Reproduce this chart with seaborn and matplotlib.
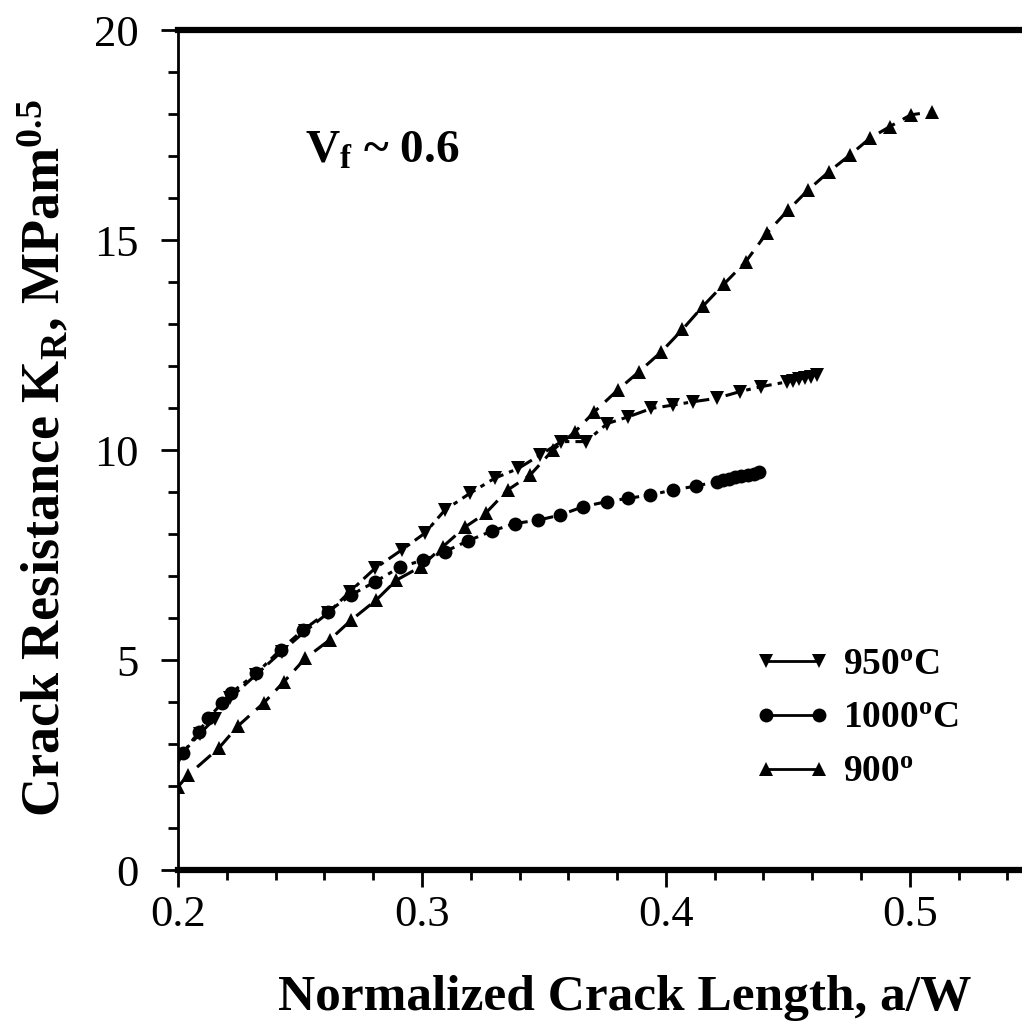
import matplotlib
matplotlib.use("Agg")
import matplotlib.pyplot as plt
import seaborn as sns
import pandas as pd
from matplotlib.lines import Line2D

# ---- data ----
x900 = [0.2000, 0.2041, 0.2167, 0.2246, 0.2352, 0.2434, 0.2522, 0.2622, 0.2710, 0.2813,
        0.2895, 0.2995, 0.3086, 0.3178, 0.3262, 0.3352, 0.3443, 0.3537, 0.3627, 0.3705,
        0.3803, 0.3889, 0.3980, 0.4068, 0.4153, 0.4238, 0.4327, 0.4413, 0.4501, 0.4583,
        0.4669, 0.4754, 0.4836, 0.4918, 0.5004, 0.5089]
y900 = [1.98, 2.26, 2.90, 3.43, 3.98, 4.48, 5.04, 5.48, 5.95, 6.43,
        6.90, 7.22, 7.70, 8.17, 8.50, 9.05, 9.40, 10.00, 10.43, 10.90,
        11.43, 11.86, 12.33, 12.87, 13.43, 13.95, 14.48, 15.16, 15.71, 16.19,
        16.63, 17.02, 17.42, 17.70, 17.98, 18.05]

x950 = [0.2005, 0.2090, 0.2150, 0.2215, 0.2320, 0.2425, 0.2520, 0.2615, 0.2705, 0.2807,
        0.2917, 0.3012, 0.3094, 0.3197, 0.3299, 0.3395, 0.3484, 0.3572, 0.3672, 0.3760,
        0.3846, 0.3941, 0.4030, 0.4112, 0.4208, 0.4303, 0.4392, 0.4495, 0.4520, 0.4545,
        0.4570, 0.4595, 0.4620]
y950 = [2.70, 3.25, 3.60, 4.10, 4.65, 5.20, 5.68, 6.12, 6.63, 7.18,
        7.62, 8.02, 8.57, 8.97, 9.33, 9.56, 9.88, 10.20, 10.20, 10.63,
        10.79, 10.99, 11.07, 11.15, 11.23, 11.39, 11.51, 11.62, 11.65, 11.69,
        11.72, 11.75, 11.78]

x1000 = [0.2020, 0.2085, 0.2123, 0.2180, 0.2216, 0.2321, 0.2421, 0.2512, 0.2615, 0.2710,
         0.2807, 0.2910, 0.3005, 0.3094, 0.3190, 0.3286, 0.3381, 0.3477, 0.3566, 0.3661,
         0.3757, 0.3846, 0.3937, 0.4030, 0.4123, 0.4210, 0.4235, 0.4260, 0.4285, 0.4310,
         0.4335, 0.4360, 0.4380]
y1000 = [2.78, 3.29, 3.61, 3.97, 4.21, 4.68, 5.25, 5.71, 6.15, 6.55,
         6.86, 7.21, 7.38, 7.58, 7.84, 8.07, 8.25, 8.33, 8.45, 8.65,
         8.77, 8.85, 8.93, 9.05, 9.14, 9.25, 9.28, 9.31, 9.35, 9.38,
         9.41, 9.44, 9.47]

labels = ["950$^\\mathrm{o}$C", "1000$^\\mathrm{o}$C", "900$^\\mathrm{o}$"]
xticks = [0.2, 0.3, 0.4, 0.5]
yticks = [0, 5, 10, 15, 20]

# ---- style ----
sns.set_theme(style="ticks")
plt.rcParams['font.family'] = ['Liberation Serif', 'DejaVu Serif']
plt.rcParams['mathtext.fontset'] = 'custom'
plt.rcParams['mathtext.rm'] = 'Liberation Serif:bold'
plt.rcParams['mathtext.it'] = 'Liberation Serif:bold'
plt.rcParams['mathtext.bf'] = 'Liberation Serif:bold'
plt.rcParams['text.color'] = 'black'
plt.rcParams['axes.labelcolor'] = 'black'
plt.rcParams['xtick.color'] = 'black'
plt.rcParams['ytick.color'] = 'black'

fig = plt.figure(figsize=(10.22, 10.21), dpi=100)
ax = fig.add_axes([178/1022, 151/1021, 1 - 178/1022, (870-30)/1021])

series = [
    (x950, y950, 'v', (0, (5, 2, 1.5, 2))),
    (x1000, y1000, 'o', (0, (3, 2, 1.5, 2))),
    (x900, y900, '^', (0, (6, 3))),
]
for (xs, ys, mk, ls) in series:
    df = pd.DataFrame({'x': xs, 'y': ys})
    sns.lineplot(data=df, x='x', y='y', ax=ax, sort=False, estimator=None,
                 color='black', linewidth=2.2, linestyle=ls,
                 marker=mk, markersize=10, markeredgewidth=0,
                 markerfacecolor='black', clip_on=True)

ax.set_xlim(0.2, 0.546)
ax.set_ylim(0, 20)
ax.set_xticks(xticks)
ax.set_xticklabels([f"{v:.1f}" for v in xticks])
ax.set_yticks(yticks)
ax.set_xticks([0.2 + 0.02 * i for i in range(18)], minor=True)
ax.set_yticks(list(range(0, 21)), minor=True)
ax.tick_params(axis='both', which='major', direction='out', length=12, width=2,
               labelsize=32, colors='black', pad=6)
ax.tick_params(axis='y', which='major', pad=16)
ax.tick_params(axis='both', which='minor', direction='out', length=7, width=2)
ax.tick_params(top=False, right=False)

for s in ['top', 'bottom']:
    ax.spines[s].set_linewidth(4.5)
ax.spines['left'].set_linewidth(2)
ax.spines['right'].set_visible(False)
for s in ax.spines.values():
    s.set_color('black')

ax.set_xlabel("Normalized Crack Length, a/W", fontsize=37, fontweight='bold', color='black')
ax.xaxis.set_label_coords((625 - 178) / 844, -(1010 - 870) / 840, transform=ax.transAxes)
ax.xaxis.label.set_va('baseline')
ax.set_ylabel("Crack Resistance K$_\\mathrm{R}$, MPam$^\\mathrm{0.5}$", fontsize=39,
              fontweight='bold', color='black')
ax.yaxis.set_label_coords(-(178 - 45) / 844, 0.49, transform=ax.transAxes)
ax.yaxis.label.set_va('center')

ax.text(0.252, 16.85, "V$_\\mathrm{f}$ ~ 0.6", fontsize=34, fontweight='bold', color='black')

handles = [
    Line2D([], [], color='black', lw=2, marker='v', markersize=10, markeredgewidth=0),
    Line2D([], [], color='black', lw=2, marker='o', markersize=10, markeredgewidth=0),
    Line2D([], [], color='black', lw=2, marker='^', markersize=10, markeredgewidth=0),
]
leg = ax.legend(handles, labels, loc='lower right', bbox_to_anchor=(0.965, 0.055),
                frameon=False, prop={'size': 27, 'weight': 'bold'}, numpoints=2,
                handlelength=2.0, handletextpad=0.35, labelspacing=0.5,
                labelcolor='black')

fig.savefig("out.png", dpi=100)
